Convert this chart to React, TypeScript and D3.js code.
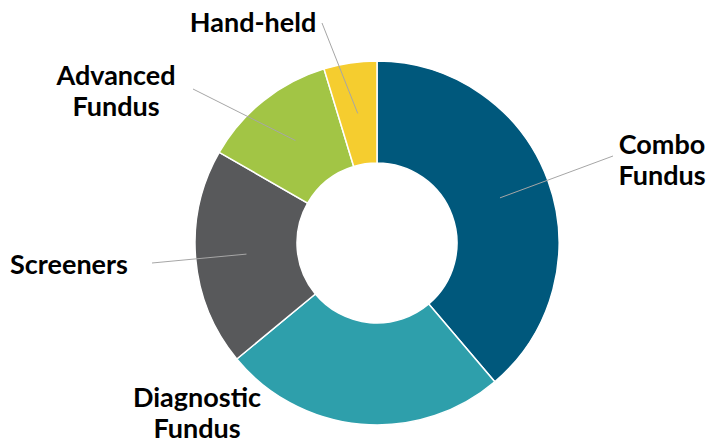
import React from "react";
import * as d3 from "d3";

const categories = ["Combo Fundus", "Diagnostic Fundus", "Screeners", "Advanced Fundus", "Hand-held"];
const values = [38.8, 25.2, 19.3, 12.0, 4.7];
const colors = ["#00587C", "#2E9FAB", "#58595B", "#A2C545", "#F5CD2F"];

// label layout (text anchor centre x, first baseline y, leader start point or null)
const labelLayout = [
  { x: 662, y: 154, lx: 613, ly: 156 },
  { x: 197, y: 407, lx: null, ly: null },
  { x: 69, y: 274, lx: 152, ly: 263 },
  { x: 116, y: 85, lx: 193, ly: 89 },
  { x: 253, y: 32, lx: 322, ly: 23 },
];

const W = 710, H = 445;
const cx = 377, cy = 243, R = 182, r = 80;

export default function App() {
  const pie = d3.pie<number>().sort(null).value((d) => d);
  const arcs = pie(values);
  const arc = d3.arc<d3.PieArcDatum<number>>().innerRadius(r).outerRadius(R);
  const mid = d3.arc<d3.PieArcDatum<number>>().innerRadius(131).outerRadius(131);
  return (
    <svg width={W} height={H} style={{ position: "absolute", left: 0, top: 0 }}
      fontFamily="Lato, sans-serif">
      <rect width={W} height={H} fill="#fff" />
      <g transform={`translate(${cx},${cy})`}>
        {arcs.map((a, i) => (
          <path key={i} d={arc(a) || ""} fill={colors[i]} stroke="#fff" strokeWidth={1.5} />
        ))}
      </g>
      {arcs.map((a, i) => {
        const L = labelLayout[i];
        if (L.lx === null) return null;
        const [mx, my] = mid.centroid(a);
        return (
          <line key={"l" + i} x1={L.lx} y1={L.ly} x2={cx + mx} y2={cy + my}
            stroke="#A6A6A6" strokeWidth={1} />
        );
      })}
      {categories.map((c, i) => {
        const L = labelLayout[i];
        const parts = c === "Screeners" || c === "Hand-held" ? [c] : c.split(" ");
        return (
          <text key={"t" + i} x={L.x} y={L.y} textAnchor="middle" fontWeight={700}
            fontSize={27} fill="#000">
            {parts.map((p, j) => (
              <tspan key={j} x={L.x} dy={j === 0 ? 0 : 31}>{p}</tspan>
            ))}
          </text>
        );
      })}
    </svg>
  );
}
